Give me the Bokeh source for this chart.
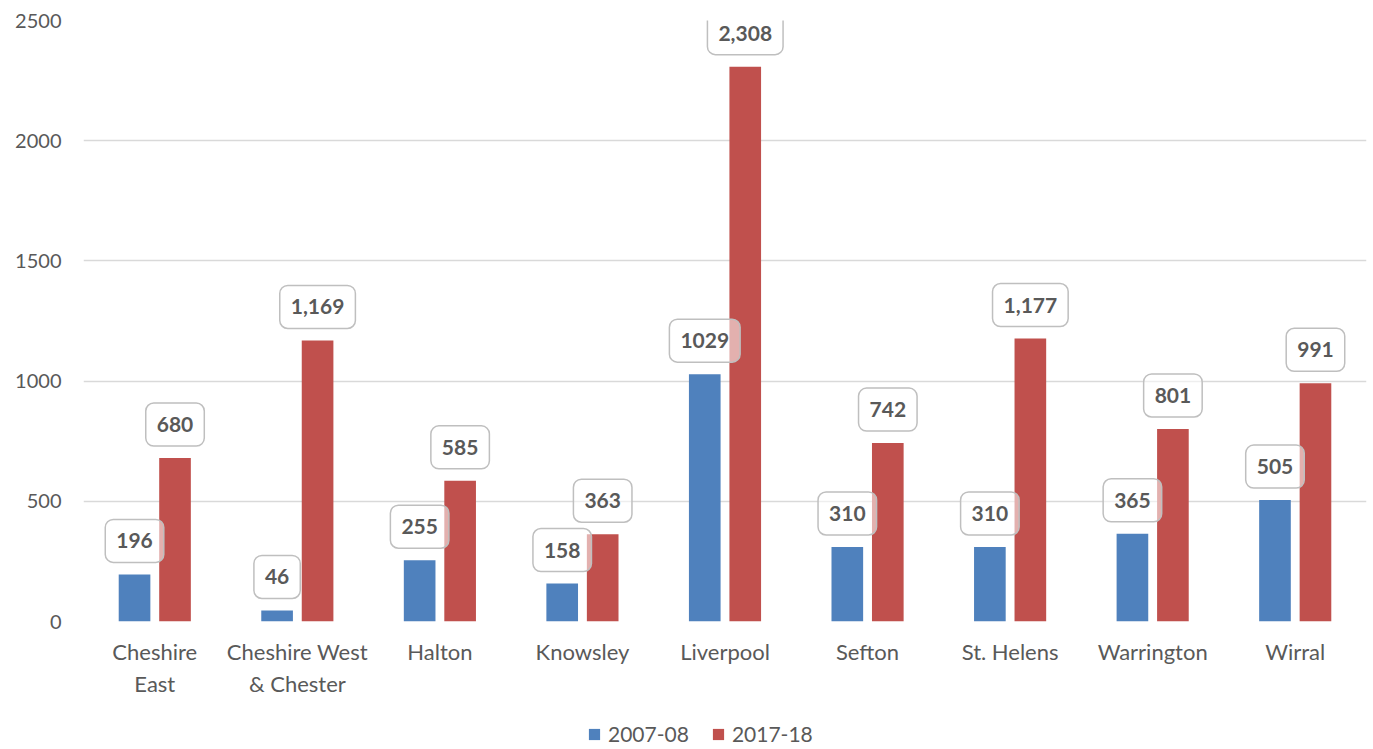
from bokeh.plotting import figure
from bokeh.layouts import column
from bokeh.models import ColumnDataSource, FactorRange, Legend, LegendItem
from bokeh.transform import dodge
from bokeh.core.properties import value
from bokeh.embed import file_html
from bokeh.resources import INLINE

# Local authority areas (as shown on the axis, wrapped) and yearly counts
categories = ["Cheshire\nEast", "Cheshire West\n& Chester", "Halton", "Knowsley",
              "Liverpool", "Sefton", "St. Helens", "Warrington", "Wirral"]
series_names = ["2007-08", "2017-18"]
values_2007 = [196, 46, 255, 158, 1029, 310, 310, 365, 505]
values_2017 = [680, 1169, 585, 363, 2308, 742, 1177, 801, 991]
y_ticks = [0, 500, 1000, 1500, 2000, 2500]

BLUE = "#4f81bd"
RED = "#c0504d"
TEXT = "#595959"
GRID = "#d9d9d9"
FONT = "Lato"

src = ColumnDataSource(dict(
    cat=categories,
    v1=values_2007,
    v2=values_2017,
    l1=[str(v) for v in values_2007],
    l2=[f"{v:,}" for v in values_2017],
))

OFF = 0.142
BW = 0.222

fig = figure(
    width=1373, height=710,
    x_range=FactorRange(factors=categories, range_padding=0),
    y_range=(0, 2500),
    output_backend="svg", toolbar_location=None,
    min_border_left=83, min_border_right=7, min_border_top=20, min_border_bottom=89,
)
fig.outline_line_color = None

fig.vbar(x=dodge("cat", -OFF, range=fig.x_range), top="v1", width=BW, source=src,
         fill_color=BLUE, line_color=None)
fig.vbar(x=dodge("cat", OFF, range=fig.x_range), top="v2", width=BW, source=src,
         fill_color=RED, line_color=None)

# value labels in rounded, slightly see-through boxes above each bar
label_style = dict(
    text_font=value(FONT), text_font_style="bold", text_font_size="21px",
    text_color=TEXT, text_align="center", text_baseline="bottom",
    background_fill_color="white", background_fill_alpha=0.55,
    border_line_color="#bfbfbf", border_line_width=1.5, border_radius=8,
    padding=dict(left=11, right=11, top=14, bottom=14), y_offset=-12,
)
fig.text(x=dodge("cat", -OFF, range=fig.x_range), y="v1", text="l1", source=src, **label_style)
fig.text(x=dodge("cat", OFF, range=fig.x_range), y="v2", text="l2", source=src, **label_style)

# axes
fig.yaxis.ticker = y_ticks
fig.yaxis.axis_line_color = None
fig.yaxis.major_tick_line_color = None
fig.yaxis.minor_tick_line_color = None
fig.yaxis.major_tick_out = 0
fig.yaxis.major_label_standoff = 22
fig.yaxis.major_label_text_font = FONT
fig.yaxis.major_label_text_font_size = "20px"
fig.yaxis.major_label_text_color = TEXT

fig.xaxis.axis_line_color = None
fig.xaxis.major_tick_line_color = None
fig.xaxis.minor_tick_line_color = None
fig.xaxis.major_tick_out = 0
fig.xaxis.major_label_standoff = 16
fig.xaxis.major_label_text_font = FONT
fig.xaxis.major_label_text_font_size = "22px"
fig.xaxis.major_label_text_color = TEXT

fig.xgrid.grid_line_color = None
fig.ygrid.grid_line_color = GRID
fig.ygrid.grid_line_width = 1.5

# legend strip under the chart: the two series as legend entries
key = figure(
    width=1373, height=39,
    x_range=FactorRange(factors=categories, range_padding=0), y_range=(0, 2500),
    output_backend="svg", toolbar_location=None,
    x_axis_location=None, y_axis_location=None, min_border=0,
)
key.outline_line_color = None
key.grid.grid_line_color = None
k1 = key.vbar(x=dodge("cat", -OFF, range=key.x_range), top="v1", width=BW, source=src,
              fill_color=BLUE, line_color=None, visible=False)
k2 = key.vbar(x=dodge("cat", OFF, range=key.x_range), top="v2", width=BW, source=src,
              fill_color=RED, line_color=None, visible=False)

legend = Legend(
    items=[LegendItem(label=series_names[0], renderers=[k1]),
           LegendItem(label=series_names[1], renderers=[k2])],
    orientation="horizontal", location=(504, 3),
    label_text_font=FONT, label_text_font_size="21px", label_text_color=TEXT,
    glyph_width=14, glyph_height=14, label_standoff=7, spacing=22,
    border_line_color=None, background_fill_color=None, padding=0, margin=0,
)
key.add_layout(legend)

p = column(fig, key, spacing=0)

open("out.html", "w").write(file_html(p, INLINE))
